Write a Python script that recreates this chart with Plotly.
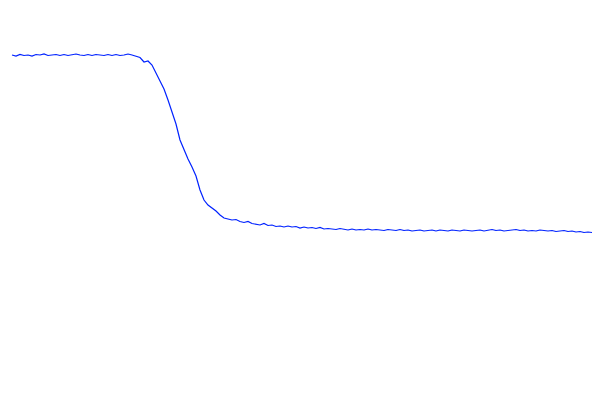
import plotly.graph_objects as go

# Signal readings, one sample per step
plateau = [357, 356, 357.5, 356.5, 357, 356, 357.5, 357, 358, 356.5, 357,
           357.5, 356.5, 357.5, 356.5, 357, 358, 357, 356.5, 357.5, 356.5,
           357.5, 357, 356.5, 357.5, 356.5, 357.5, 356.5, 357, 358, 357]
drop = [356, 354.5, 350, 351, 347, 339, 332, 323, 312, 299, 288, 272, 262,
        253, 245, 236, 222, 212, 207, 204, 201, 197, 194]
tail = [193, 192, 192.5, 190.5, 189.5, 190.5, 188.5, 188, 187, 188.5, 186.5,
        187, 185.5, 186, 185, 186, 185, 185.5, 184, 185, 184, 184.5, 183.5,
        184.5, 183, 183.5, 183, 182.5, 183.5, 182.5, 182, 183, 182, 182.5,
        182, 183, 182, 182.5, 182, 181.5, 182.5, 182, 181.5, 182.5,
        181.5, 182, 181, 181.5, 182, 181, 181.5, 182, 181, 182,
        181.5, 181, 182, 181.5, 181, 182, 181.5, 181, 181.5, 182,
        181, 181.5, 182.5, 181.5, 182, 181, 181.5, 182, 182.5, 181.5,
        182, 181, 181.5, 181, 182, 181.5, 181, 181.5, 180.5, 181,
        181.5, 180.5, 181, 180, 180.5, 179.5, 180, 179.5, 180, 179]

signal = plateau + drop + tail
steps = list(range(len(signal)))

fig = go.Figure()
fig.add_trace(go.Scatter(
    x=steps,
    y=signal,
    mode='lines',
    line=dict(color='#0022ff', width=1.2),
    hoverinfo='skip'
))

# page body has an 8px margin, so the figure is sized to fit the window
fig.update_layout(
    width=592,
    height=380,
    margin=dict(l=0, r=0, t=0, b=0),
    paper_bgcolor='white',
    plot_bgcolor='white',
    showlegend=False,
    xaxis=dict(range=[-1, 147], visible=False),
    yaxis=dict(range=[24, 404], visible=False),
)

fig.write_html("out.html")
